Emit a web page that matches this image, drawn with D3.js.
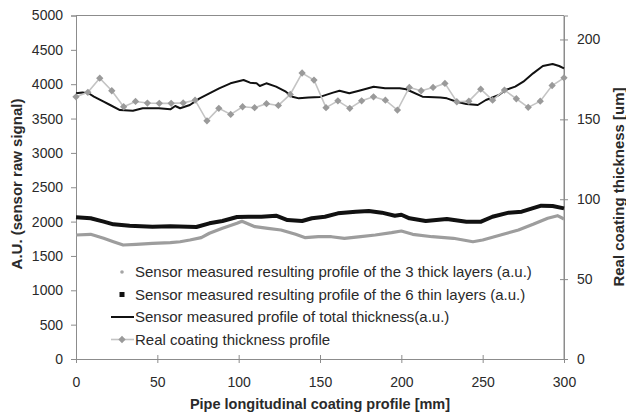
<!DOCTYPE html>
<html>
<head>
<meta charset="utf-8">
<script src="https://cdn.jsdelivr.net/npm/d3@7"></script>
<style>
  html, body { margin: 0; padding: 0; background: #fff; }
  svg { display: block; font-family: Arial, "Liberation Sans", sans-serif; }
</style>
</head>
<body>
<svg id="chart" width="626" height="415"></svg>
<script>
// Position along the pipe [mm] and sensor readings (a.u.)
const thickX = [0,9,17,23,29,37,47,58,64,70,77,82,90,99,102,110,118,126,135,141,149,157,165,175,184,194,200,207,219,232,244,250,261,272,281,290,296,300];
const thickVals = [1805,1815,1757,1707,1659,1669,1684,1693,1707,1732,1766,1830,1902,1975,2005,1926,1902,1878,1815,1766,1780,1780,1757,1780,1805,1839,1863,1815,1780,1757,1707,1732,1805,1878,1960,2048,2086,2038];

const thinX = [0,9,17,23,33,47,58,74,82,90,99,106,114,123,130,139,145,153,161,172,180,188,196,200,205,215,228,240,249,256,266,274,286,293,300];
const thinVals = [2062,2048,1999,1960,1940,1926,1931,1921,1975,2009,2067,2071,2071,2086,2023,2009,2048,2071,2120,2144,2154,2130,2086,2100,2048,2009,2038,1999,1999,2071,2130,2144,2232,2227,2193];

const totalX = [0,4,8,11,17,21,27,35,41,51,58,61,64,70,76,82,88,95,103,107,111,113,117,123,129,133,137,143,150,158,162,168,174,183,190,199,203,213,224,228,234,240,247,252,260,264,270,275,281,287,293,297,300];
const totalVals = [3870,3880,3865,3818,3745,3697,3624,3614,3650,3650,3634,3683,3650,3697,3794,3867,3940,4013,4061,4022,4013,3974,4013,3964,3891,3818,3794,3808,3815,3877,3905,3867,3905,3964,3940,3940,3926,3818,3808,3794,3745,3712,3697,3770,3843,3915,3964,4037,4158,4265,4294,4265,4231];

// Real coating thickness [um], right axis
const realX = [0,7.3,14.6,22,29.3,36.6,43.9,51.2,58.5,65.9,73.2,80.5,87.8,95.1,102.4,109.8,117.1,124.4,131.7,139,146.3,153.7,161,168.3,175.6,182.9,190.2,197.6,204.9,212.2,219.5,226.8,234.1,241.5,248.8,256.1,263.4,270.7,278,285.4,292.7,300];
const realVals = [164.1,166.9,175.8,167.9,157.9,161.2,160.2,160,160,160.3,162,149.1,156.9,153.1,157.9,157.3,159.8,158.7,165.6,179,174.6,157.3,161.6,156.9,161.6,164.1,162,155.8,170,167.9,170,172.5,161,161.4,168.9,162,168.3,162.9,157.5,161.4,171.2,176];

// Axis ticks and labels
const xTicks = [0,50,100,150,200,250,300];
const leftTicks = [0,500,1000,1500,2000,2500,3000,3500,4000,4500,5000];
const rightTicks = [0,50,100,150,200];
const legendLabels = [
  "Sensor measured resulting profile of the 3 thick layers (a.u.)",
  "Sensor measured resulting profile of the 6 thin layers (a.u.)",
  "Sensor measured profile of total thickness(a.u.)",
  "Real coating thickness profile"
];
const xTitle = "Pipe longitudinal coating profile [mm]";
const leftTitle = "A.U. (sensor raw signal)";
const rightTitle = "Real coating thickness [um]";

const svg = d3.select("#chart");
const plot = { left: 76, right: 564, top: 15.5, bottom: 359 };

const x = d3.scaleLinear().domain([0, 300]).range([plot.left, plot.right]);
const yL = d3.scaleLinear().domain([0, 5000]).range([plot.bottom, plot.top]);
const yR = d3.scaleLinear().domain([0, 215]).range([plot.bottom, plot.top]);

const axisColor = "#8c8c8c";
const textColor = "#2a2a2a";

// plot frame (top and right edges)
svg.append("path")
  .attr("d", `M${plot.left},${plot.top}H${plot.right}V${plot.bottom}`)
  .attr("fill", "none").attr("stroke", axisColor).attr("stroke-width", 1);

// left axis
const gL = svg.append("g").attr("transform", `translate(${plot.left},0)`)
  .call(d3.axisLeft(yL).tickValues(leftTicks).tickSize(5).tickPadding(8).tickFormat(d3.format("d")));
// bottom axis
const gB = svg.append("g").attr("transform", `translate(0,${plot.bottom})`)
  .call(d3.axisBottom(x).tickValues(xTicks).tickSize(4).tickPadding(14).tickFormat(d3.format("d")));
gB.selectAll(".tick line").attr("y1", -4);
// right axis
const gR = svg.append("g").attr("transform", `translate(${plot.right},0)`)
  .call(d3.axisRight(yR).tickValues(rightTicks).tickSize(4).tickPadding(9).tickFormat(d3.format("d")));
gR.selectAll(".tick line").attr("x1", -4);

[gL, gB, gR].forEach(g => {
  g.select(".domain").attr("stroke", axisColor);
  g.selectAll(".tick line").attr("stroke", axisColor);
  g.selectAll(".tick text").attr("fill", textColor).attr("font-size", 14)
    .attr("font-family", "Arial, 'Liberation Sans', sans-serif");
});

// series lines
const lineL = (xs, vs) => d3.line().x((d, i) => x(xs[i])).y(d => yL(d))(vs);

svg.append("path").attr("d", lineL(thickX, thickVals))
  .attr("fill", "none").attr("stroke", "#9d9d9d").attr("stroke-width", 3.2)
  .attr("stroke-linejoin", "round");

svg.append("path").attr("d", lineL(thinX, thinVals))
  .attr("fill", "none").attr("stroke", "#111").attr("stroke-width", 4)
  .attr("stroke-linejoin", "round");

svg.append("path").attr("d", lineL(totalX, totalVals))
  .attr("fill", "none").attr("stroke", "#111").attr("stroke-width", 2)
  .attr("stroke-linejoin", "round");

const realLine = d3.line().x((d, i) => x(realX[i])).y(d => yR(d));
svg.append("path").attr("d", realLine(realVals))
  .attr("fill", "none").attr("stroke", "#c4c4c4").attr("stroke-width", 1.6);

const diamond = d3.symbol().type(d3.symbolDiamond2).size(34);
svg.append("g").selectAll("path").data(realVals).join("path")
  .attr("d", diamond)
  .attr("transform", (d, i) => `translate(${x(realX[i])},${yR(d)})`)
  .attr("fill", "#9a9a9a");

// legend
const legY = [272, 294.5, 317, 339.5];
const leg = svg.append("g");
leg.append("circle").attr("cx", 122).attr("cy", legY[0]).attr("r", 1.8).attr("fill", "#a5a5a5");
leg.append("rect").attr("x", 119.5).attr("y", legY[1] - 2.5).attr("width", 5).attr("height", 5).attr("fill", "#111");
leg.append("line").attr("x1", 111).attr("x2", 134).attr("y1", legY[2]).attr("y2", legY[2])
  .attr("stroke", "#111").attr("stroke-width", 2);
leg.append("line").attr("x1", 111).attr("x2", 134).attr("y1", legY[3]).attr("y2", legY[3])
  .attr("stroke", "#c4c4c4").attr("stroke-width", 1.6);
leg.append("path").attr("d", diamond).attr("transform", `translate(122,${legY[3]})`).attr("fill", "#9a9a9a");
leg.selectAll("text").data(legendLabels).join("text")
  .attr("x", 135).attr("y", (d, i) => legY[i]).attr("dy", "0.36em")
  .attr("font-size", 15).attr("fill", textColor).text(d => d);

// axis titles
svg.append("text").attr("x", 320).attr("y", 409).attr("text-anchor", "middle")
  .attr("font-size", 14.5).attr("font-weight", "bold").attr("fill", textColor).text(xTitle);
svg.append("text").attr("transform", "translate(22,184) rotate(-90)").attr("text-anchor", "middle")
  .attr("font-size", 15).attr("font-weight", "bold").attr("fill", textColor).text(leftTitle);
svg.append("text").attr("transform", "translate(624,187) rotate(-90)").attr("text-anchor", "middle")
  .attr("font-size", 15).attr("font-weight", "bold").attr("fill", textColor).text(rightTitle);
</script>
</body>
</html>
